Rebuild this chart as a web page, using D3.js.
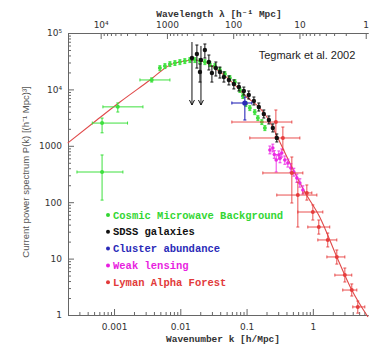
<!DOCTYPE html>
<html><head><meta charset="utf-8">
<script src="https://cdn.jsdelivr.net/npm/d3@7"></script>
<style>
html,body{margin:0;padding:0;background:#fff;}
svg{display:block;}
.ax text{font-family:"DejaVu Sans",sans-serif;font-size:9px;fill:#333;}
.ax path,.ax line{stroke:#666;stroke-width:1;}
</style></head>
<body><svg id="c" width="373" height="348"></svg>
<script>
// ---- data ----
const modelK = [2.0e-4,5.5e-4,1.23e-3,3.5e-3,7.0e-3,0.0117,0.0166,0.0235,0.0396,0.0643,0.1,0.153,0.217,0.297,0.45,0.757,1.27,2.3,3.87,6.8];
const modelP = [1120,2870,5980,14700,27100,31900,33200,30600,20400,12500,7330,4880,2870,1375,495,152,54.7,10.7,2.77,0.92];

const cmbK   = [0.00066,0.00066,0.00114,0.0037,0.00492,0.00586,0.00697,0.0083,0.00986,0.0117,0.01396,0.0166,0.0198,0.0235,0.0279,0.0333,0.0396,0.0471,0.056,0.0666,0.0793,0.0879,0.0976,0.112,0.133,0.148,0.170,0.189];
const cmbP   = [343,2530,4900,14700,23900,26000,28200,29400,30600,31900,33200,33200,31900,30600,28200,26000,22100,18700,15900,13500,9750,7640,5510,4680,3970,3110,2640,2070];
const cmbPLo = [109,1700,3970,13500,21500,23400,25400,26500,27500,28700,29900,29900,28700,27500,25400,23400,19900,16800,14300,12200,8800,6900,4960,4210,3570,2800,2380,1860];
const cmbPHi = [687,3100,5750,16000,26300,28600,31000,32300,33700,35100,36500,36500,35100,33700,31000,28600,24300,20600,17500,14900,10700,8400,6060,5150,4370,3420,2900,2280];
const cmbKLo = [0.000276,0.00047,0.00068,0.00246];
const cmbKHi = [0.00136,0.0016,0.00273,0.00697];

const sdssK   = [0.0150,0.0178,0.0198,0.0205,0.0235,0.0270,0.0300,0.0344,0.0396,0.0455,0.0541,0.0643,0.0766,0.0910,0.108,0.129,0.153,0.182,0.217,0.249,0.286];
const sdssP   = [36000,42400,20400,33200,50000,30600,19500,23900,20400,16600,14700,12500,11000,9370,7960,6230,4880,3660,2870,2070,1375];
const sdssPLo = [5290,23900,13500,5290,36000,22100,13500,17300,15900,13500,12000,10200,9370,7960,6760,5290,4140,3110,2440,1760,1170];
const sdssPHi = [69200,61200,28200,58900,63800,40700,26000,30600,24900,20400,17300,14700,13000,11000,9370,7330,5740,4310,3380,2440,1620];
const sdssArrow = [true,false,false,true,false,false,false,false,false,false,false,false,false,false,false,false,false,false,false,false,false];

const clusterK = [0.0942], clusterP = [5740], clusterKLo = [0.060], clusterKHi = [0.12], clusterPLo = [2870], clusterPHi = [7300];

const wlK   = [0.225,0.249,0.262,0.280,0.307,0.320,0.340,0.378,0.420,0.466,0.517,0.574,0.637,0.707];
const wlP   = [843,914,700,560,687,600,745,560,495,404,343,268,219,165];
const wlPLo = [720,780,600,343,580,500,630,470,420,340,290,225,185,140];
const wlPHi = [990,1070,820,700,810,720,880,660,580,480,400,315,260,195];

const lyaK   = [0.277,0.353,0.482,0.594,0.812,1.0,1.23,1.68,2.30,3.04,3.87,4.77];
const lyaP   = [2640,1375,330,134,146,67,36.3,21.4,10.7,5.1,2.77,1.39];
const lyaKLo = [0.060,0.112,0.176,0.286,0.707,0.594,0.84,1.19,1.63,2.15,2.83,4.01];
const lyaKHi = [0.482,0.637,0.707,1.15,0.966,1.415,1.80,2.30,3.04,3.87,4.61,6.09];
const lyaPLo = [1430,843,96.8,36.3,109,48.3,27.2,16.1,8.0,3.85,2.17,1.08];
const lyaPHi = [4310,2150,633,228,202,89.5,48.3,28.4,14.2,6.8,3.55,1.77];

const xTicks = [0.001,0.01,0.1,1], xTickLabels = ["0.001","0.01","0.1","1"];
const yTicks = [1,10,100,1000,1e4,1e5], yTickLabels = ["1","10","100","1000","10\u2074","10\u2075"];
const lamTicks = [1e4,1000,100,10,1], lamTickLabels = ["10\u2074","1000","100","10","1"];

const legendNames = ["Cosmic Microwave Background","SDSS galaxies","Cluster abundance","Weak lensing","Lyman Alpha Forest"];
const legendColors = ["#33d633","#111111","#2a2ab8","#e81fe0","#e23a3a"];

// ---- drawing ----
const svg = d3.select("#c");
svg.append("rect").attr("width",373).attr("height",348).attr("fill","#fff");
const L=68, R=368, T=33, B=315;
const x = d3.scaleLog().domain([2.02e-4,6.8]).range([L,R]);
const y = d3.scaleLog().domain([1,1e5]).range([B,T]);
const lam = d3.scaleLog().domain([2*Math.PI/2.02e-4, 2*Math.PI/6.8]).range([L,R]);

function minors(lo,hi){const a=[];for(let e=lo;e<hi;e++)for(let m=2;m<10;m++)a.push(m*Math.pow(10,e));return a;}

// bottom axis
const gB = svg.append("g").attr("class","ax").attr("transform",`translate(0,${B})`);
gB.call(d3.axisBottom(x).tickValues(xTicks).tickFormat((d,i)=>xTickLabels[i]).tickSizeInner(-6).tickSizeOuter(0).tickPadding(9));
svg.append("g").attr("class","ax").attr("transform",`translate(0,${B})`)
  .call(d3.axisBottom(x).tickValues(minors(-4,1).filter(v=>v>=2.02e-4&&v<=6.8)).tickFormat("").tickSizeInner(-3).tickSizeOuter(0));
// left axis
svg.append("g").attr("class","ax").attr("transform",`translate(${L},0)`)
  .call(d3.axisLeft(y).tickValues(yTicks).tickFormat((d,i)=>yTickLabels[i]).tickSizeInner(-6).tickSizeOuter(0).tickPadding(6));
svg.append("g").attr("class","ax").attr("transform",`translate(${L},0)`)
  .call(d3.axisLeft(y).tickValues(minors(0,5)).tickFormat("").tickSizeInner(-3).tickSizeOuter(0));
// top axis (wavelength)
svg.append("g").attr("class","ax").attr("transform",`translate(0,${T})`)
  .call(d3.axisTop(lam).tickValues(lamTicks).tickFormat((d,i)=>lamTickLabels[i]).tickSizeInner(-6).tickSizeOuter(0).tickPadding(5));
svg.append("g").attr("class","ax").attr("transform",`translate(0,${T})`)
  .call(d3.axisTop(lam).tickValues(minors(0,4).filter(v=>v<=2*Math.PI/2.02e-4)).tickFormat("").tickSizeInner(-3).tickSizeOuter(0));

// axis titles
svg.append("text").attr("x",219).attr("y",17).attr("text-anchor","middle")
  .attr("font-family","Liberation Mono, monospace").attr("font-weight","bold").attr("font-size",9.5).attr("fill","#333")
  .text("Wavelength \u03bb [h\u207b\u00b9 Mpc]");
svg.append("text").attr("x",223).attr("y",342).attr("text-anchor","middle")
  .attr("font-family","Liberation Mono, monospace").attr("font-weight","bold").attr("font-size",9.5).attr("fill","#333")
  .text("Wavenumber k [h/Mpc]");
svg.append("text").attr("transform","translate(29,172) rotate(-90)").attr("text-anchor","middle")
  .attr("font-family","Liberation Sans, Arial, sans-serif").attr("font-size",9.5).attr("fill","#555")
  .text("Current power spectrum P(k) [(h\u207b\u00b9 Mpc)\u00b3]");
svg.append("text").attr("x",307).attr("y",59).attr("text-anchor","middle")
  .attr("font-family","Liberation Sans, Arial, sans-serif").attr("font-size",11).attr("fill","#222")
  .text("Tegmark et al. 2002");

// model curve
const plot = svg.append("g");
plot.append("path").datum(modelK.map((k,i)=>[k,modelP[i]]))
  .attr("fill","none").attr("stroke","#e04a4a").attr("stroke-width",1.1)
  .attr("d", d3.line().x(d=>x(d[0])).y(d=>y(d[1])).curve(d3.curveMonotoneX));

function errs(g, K, P, PLo, PHi, KLo, KHi, color, r, sw, arrows){
  K.forEach((k,i)=>{
    const cx=x(k), cy=y(P[i]);
    if(KLo && KLo[i]!=null){
      g.append("line").attr("x1",x(KLo[i])).attr("x2",x(KHi[i])).attr("y1",cy).attr("y2",cy).attr("stroke",color).attr("stroke-width",sw);
      [KLo[i],KHi[i]].forEach(v=>g.append("line").attr("x1",x(v)).attr("x2",x(v)).attr("y1",cy-1.5).attr("y2",cy+1.5).attr("stroke",color).attr("stroke-width",sw));
    }
    if(PLo && PLo[i]!=null){
      g.append("line").attr("x1",cx).attr("x2",cx).attr("y1",y(PLo[i])).attr("y2",y(PHi[i])).attr("stroke",color).attr("stroke-width",sw);
      if(arrows && arrows[i]){
        const ty=y(PLo[i]);
        g.append("path").attr("d",`M${cx-2.5},${ty-5}L${cx},${ty}L${cx+2.5},${ty-5}`).attr("fill","none").attr("stroke",color).attr("stroke-width",sw);
      } else {
        [PLo[i],PHi[i]].forEach(v=>g.append("line").attr("x1",cx-1.5).attr("x2",cx+1.5).attr("y1",y(v)).attr("y2",y(v)).attr("stroke",color).attr("stroke-width",sw));
      }
    }
    g.append("circle").attr("cx",cx).attr("cy",cy).attr("r",r).attr("fill",color);
  });
}
errs(plot.append("g"), cmbK, cmbP, cmbPLo, cmbPHi, cmbKLo, cmbKHi, "#3ee03e", 2, 1);
errs(plot.append("g"), wlK, wlP, wlPLo, wlPHi, null, null, "#ec2ae4", 1.8, 0.9);
errs(plot.append("g"), lyaK, lyaP, lyaPLo, lyaPHi, lyaKLo, lyaKHi, "#e63c3c", 2, 0.9);
errs(plot.append("g"), sdssK, sdssP, sdssPLo, sdssPHi, null, null, "#111", 2.2, 1, sdssArrow);
errs(plot.append("g"), clusterK, clusterP, clusterPLo, clusterPHi, clusterKLo, clusterKHi, "#2a2ab8", 2.6, 1.1);

// legend
const lg = svg.append("g");
legendNames.forEach((n,i)=>{
  const yy = 215 + i*16.8;
  lg.append("circle").attr("cx",108).attr("cy",yy).attr("r",2).attr("fill",legendColors[i]);
  lg.append("text").attr("x",113).attr("y",yy+3.5).attr("font-family","Liberation Mono, monospace")
    .attr("font-weight","bold").attr("font-size",10.5).attr("fill",legendColors[i]).text(n);
});
</script></body></html>
